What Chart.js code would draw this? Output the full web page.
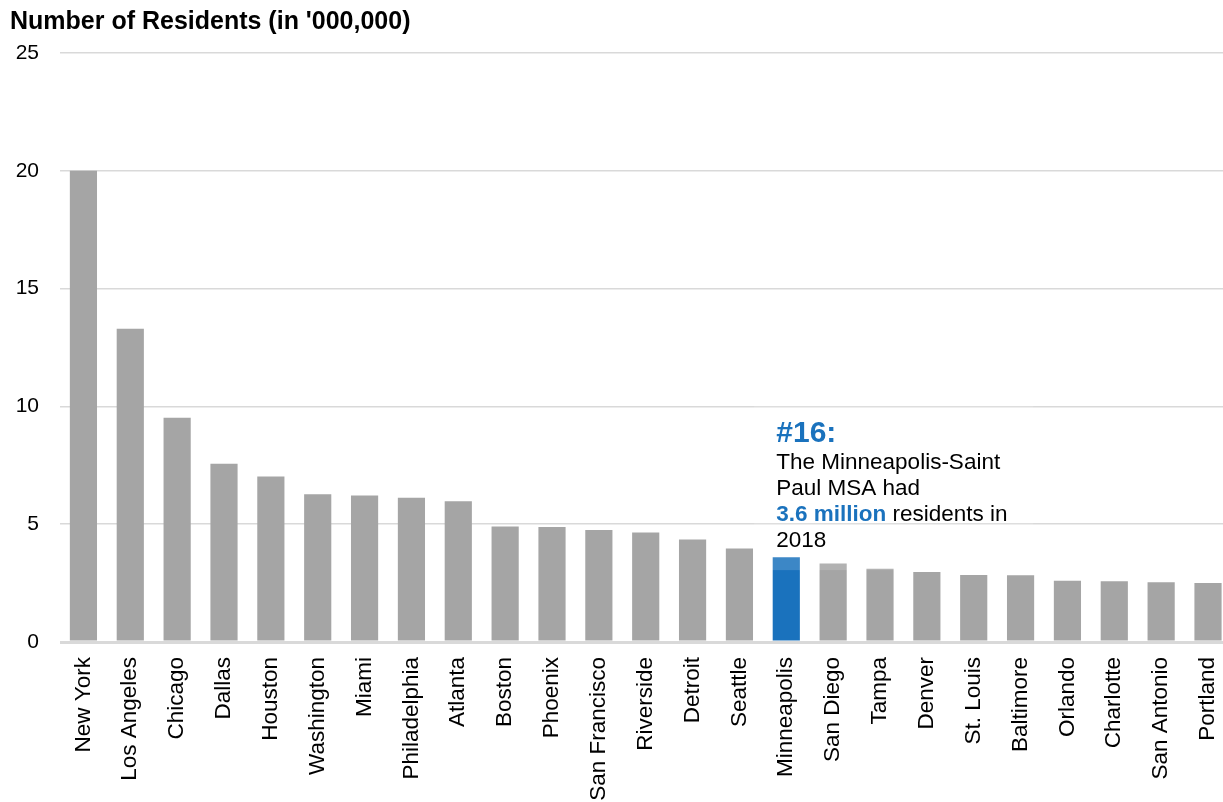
<!DOCTYPE html>
<html>
<head>
<meta charset="utf-8">
<script src="https://cdn.jsdelivr.net/npm/chart.js@4"></script>
<style>
    html, body { margin: 0; padding: 0; background: #fff; overflow: hidden; }
    #wrap { width: 1242px; height: 802px; }
</style>
</head>
<body>
<div id="wrap"><canvas id="msa-chart" width="1242" height="802"></canvas></div>
<script>
// Largest US metro areas, residents in millions (2018)
const cities = ['New York', 'Los Angeles', 'Chicago', 'Dallas', 'Houston', 'Washington', 'Miami',
    'Philadelphia', 'Atlanta', 'Boston', 'Phoenix', 'San Francisco', 'Riverside', 'Detroit', 'Seattle',
    'Minneapolis', 'San Diego', 'Tampa', 'Denver', 'St. Louis', 'Baltimore', 'Orlando', 'Charlotte',
    'San Antonio', 'Portland'];
const residents = [20.0, 13.3, 9.52, 7.57, 7.02, 6.27, 6.22, 6.12, 5.97, 4.9, 4.88, 4.75, 4.65, 4.35,
    3.97, 3.6, 3.33, 3.11, 2.97, 2.84, 2.83, 2.6, 2.58, 2.54, 2.5];
const highlightCity = 'Minneapolis';
const yMax = 25;
const yStep = 5;

const FONT = '"Liberation Sans", Arial, sans-serif';
const GREY = '#a5a5a5';
const BLUE = '#1a72bd';

const titlePlugin = {
    id: 'axisTitle',
    afterDraw(chart) {
        const ctx = chart.ctx;
        ctx.save();
        ctx.fillStyle = '#000';
        ctx.font = 'bold 25px ' + FONT;
        ctx.textBaseline = 'alphabetic';
        ctx.fillText("Number of Residents (in '000,000)", 10, 29);
        ctx.restore();
    }
};

// callout next to the highlighted bar
const calloutPlugin = {
    id: 'callout',
    afterDatasetsDraw(chart) {
        const ctx = chart.ctx;
        const x = chart.scales.x;
        const y = chart.scales.y;
        const idx = cities.indexOf(highlightCity);
        const left = x.getPixelForValue(idx) - 32;
        const top = y.getPixelForValue(10) - 1;
        const bottom = y.getPixelForValue(3.05);

        ctx.save();
        ctx.fillStyle = 'rgba(255,255,255,0.15)';
        ctx.fillRect(left, top, 279, bottom - top);

        const tx = left + 22;
        ctx.textBaseline = 'alphabetic';
        ctx.fillStyle = BLUE;
        ctx.font = 'bold 30px ' + FONT;
        ctx.fillText('#' + (idx + 1) + ':', tx, top + 37);

        ctx.font = '22.5px ' + FONT;
        ctx.fillStyle = '#000';
        ctx.fillText('The Minneapolis-Saint', tx, top + 64);
        ctx.fillText('Paul MSA had', tx, top + 90);

        const value = residents[idx];
        ctx.font = 'bold 22.5px ' + FONT;
        ctx.fillStyle = BLUE;
        const strong = value + ' million';
        ctx.fillText(strong, tx, top + 116);
        const w = ctx.measureText(strong + ' ').width;
        ctx.font = '22.5px ' + FONT;
        ctx.fillStyle = '#000';
        ctx.fillText('residents in', tx + w, top + 116);
        ctx.fillText('2018', tx, top + 142);
        ctx.restore();
    }
};

const ctxChart = document.getElementById('msa-chart').getContext('2d');

new Chart(ctxChart, {
    type: 'bar',
    data: {
        labels: cities,
        datasets: [{
            data: residents,
            backgroundColor: cities.map(c => c === highlightCity ? BLUE : GREY),
            barPercentage: 0.58,
            categoryPercentage: 1.0
        }]
    },
    options: {
        responsive: false,
        animation: false,
        layout: { padding: { top: 53, right: 0, left: 0, bottom: 0 } },
        plugins: {
            legend: { display: false },
            tooltip: { enabled: false }
        },
        scales: {
            x: {
                grid: { display: false },
                border: { display: false },
                ticks: {
                    autoSkip: false,
                    minRotation: 90,
                    maxRotation: 90,
                    padding: 7,
                    color: '#000',
                    font: { family: FONT, size: 22.5 }
                },
                afterFit(scale) { scale.height = 160; }
            },
            y: {
                min: 0,
                max: yMax,
                grid: {
                    color: '#d9d9d9',
                    lineWidth: c => c.tick && c.tick.value === 0 ? 3 : 1.5,
                    drawTicks: false
                },
                border: { display: false },
                ticks: {
                    stepSize: yStep,
                    padding: 21,
                    color: '#000',
                    font: { family: FONT, size: 21 }
                },
                afterFit(scale) { scale.width = 60; }
            }
        }
    },
    plugins: [titlePlugin, calloutPlugin]
});
</script>
</body>
</html>
